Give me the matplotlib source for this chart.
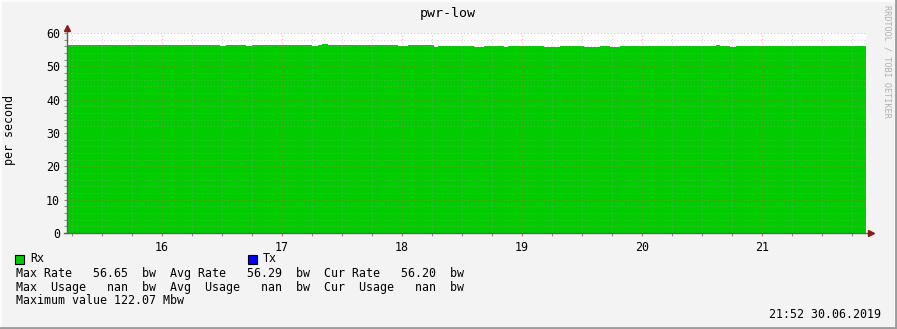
import matplotlib
matplotlib.use('Agg')
import matplotlib.pyplot as plt
import numpy as np
from matplotlib.ticker import MultipleLocator, FixedLocator

# Datos (inicio de cada tramo, valor de Rx en bw)
tiempos = ['15:12', '16:29', '16:32', '16:42', '16:45', '17:15', '17:18', '17:20',
           '17:23', '17:58', '18:03', '18:16', '18:18', '18:36', '18:41', '18:51',
           '18:53', '19:11', '19:19', '19:31', '19:39', '19:44', '19:49', '20:37',
           '20:39', '20:44', '20:47']
rx = [56.4, 56.1, 56.4, 56.1, 56.4, 56.1, 56.4, 56.65,
      56.4, 56.1, 56.4, 55.8, 56.1, 55.8, 56.1, 55.8,
      56.1, 55.8, 56.1, 55.8, 56.1, 55.8, 56.1, 56.4,
      56.1, 55.8, 56.2]
fin = '21:52'
horas = [16, 17, 18, 19, 20, 21]

titulo = 'pwr-low'
linea_rate = 'Max Rate   56.65  bw  Avg Rate   56.29  bw  Cur Rate   56.20  bw'
linea_usage = 'Max  Usage   nan  bw  Avg  Usage   nan  bw  Cur  Usage   nan  bw'
linea_max = 'Maximum value 122.07 Mbw'
fecha = '21:52 30.06.2019'


def a_horas(t):
    h, m = t.split(':')
    return int(h) + int(m) / 60


plt.rcParams['font.family'] = ['DejaVu Sans Mono']
FS = 8.4

W, H = 897, 329
fig = plt.figure(figsize=(W / 100, H / 100), dpi=100, facecolor='#f3f3f3')
ax = fig.add_axes([67 / W, 1 - 233 / H, (866 - 67) / W, 200 / H])
ax.set_facecolor('white')

x = np.array([a_horas(t) for t in tiempos] + [a_horas(fin)])
y = np.array(rx + [rx[-1]])
ax.fill_between(x, 0, y, step='post', color='#00cc00', linewidth=0, zorder=1)

ax.set_xlim(15 + 12.5 / 60, a_horas(fin))
ax.set_ylim(0, 60)

# Rejilla estilo rrdtool
ax.xaxis.set_major_locator(FixedLocator(horas))
ax.xaxis.set_minor_locator(MultipleLocator(0.25))
ax.yaxis.set_major_locator(MultipleLocator(10))
ax.yaxis.set_minor_locator(MultipleLocator(2))
ax.set_xticklabels([str(h) for h in horas])
ax.grid(which='minor', color='#a0a0a0', alpha=0.4, linestyle=(0, (1, 2)), linewidth=0.8, zorder=2)
ax.grid(which='major', color='#d06060', alpha=0.45, linestyle=(0, (1, 2)), linewidth=0.8, zorder=2)
ax.set_axisbelow(False)

for s in ax.spines.values():
    s.set_visible(False)
ax.tick_params(which='both', length=2, width=0.8, color='#909090', direction='out',
               labelsize=FS, pad=3)
ax.tick_params(axis='x', pad=4)

# Ejes con flechas
ax.plot([0, 0], [0, 1.02], transform=ax.transAxes, color='#606060', lw=1, clip_on=False, zorder=5)
ax.plot([-0.004, 1.004], [0, 0], transform=ax.transAxes, color='#606060', lw=1, clip_on=False, zorder=5)
ax.plot([0], [1.025], transform=ax.transAxes, marker='^', ms=5, color='#8b1a1a', clip_on=False, zorder=6)
ax.plot([1.006], [0], transform=ax.transAxes, marker='>', ms=5, color='#8b1a1a', clip_on=False, zorder=6)

# Textos
fig.text(448 / W, 1 - 14 / H, titulo, ha='center', va='center', fontsize=9.6)
fig.text(10 / W, 1 - 130 / H, 'per second', rotation=90, ha='center', va='center', fontsize=FS)
fig.text(887 / W, 1 - 5 / H, 'RRDTOOL / TOBI OETIKER', rotation=270, ha='center', va='top',
         fontsize=6.1, color='#b0b0b0')

fig.patches.append(plt.Rectangle((15 / W, 1 - 264 / H), 9 / W, 9 / H, transform=fig.transFigure,
                                 facecolor='#00cc00', edgecolor='black', linewidth=0.8))
fig.patches.append(plt.Rectangle((248 / W, 1 - 264 / H), 9 / W, 9 / H, transform=fig.transFigure,
                                 facecolor='#0000ff', edgecolor='black', linewidth=0.8))
fig.text(30 / W, 1 - 259 / H, 'Rx', va='center', fontsize=FS)
fig.text(263 / W, 1 - 259 / H, 'Tx', va='center', fontsize=FS)
fig.text(16 / W, 1 - 273 / H, linea_rate, va='center', fontsize=FS)
fig.text(16 / W, 1 - 287 / H, linea_usage, va='center', fontsize=FS)
fig.text(16 / W, 1 - 301 / H, linea_max, va='center', fontsize=FS)
fig.text(881 / W, 1 - 315 / H, fecha, ha='right', va='center', fontsize=FS)

# Marco sombreado
fig.add_artist(plt.Line2D([0, 1], [1 - 0.5 / H] * 2, color='#fcfcfc', lw=1.5))
fig.add_artist(plt.Line2D([0.5 / W] * 2, [0, 1], color='#fcfcfc', lw=1.5))
fig.add_artist(plt.Line2D([0, 1], [1 / H] * 2, color='#9c9c9c', lw=2))
fig.add_artist(plt.Line2D([1 - 1 / W] * 2, [0, 1], color='#9c9c9c', lw=2))

fig.savefig('out.png', dpi=100, facecolor=fig.get_facecolor())
